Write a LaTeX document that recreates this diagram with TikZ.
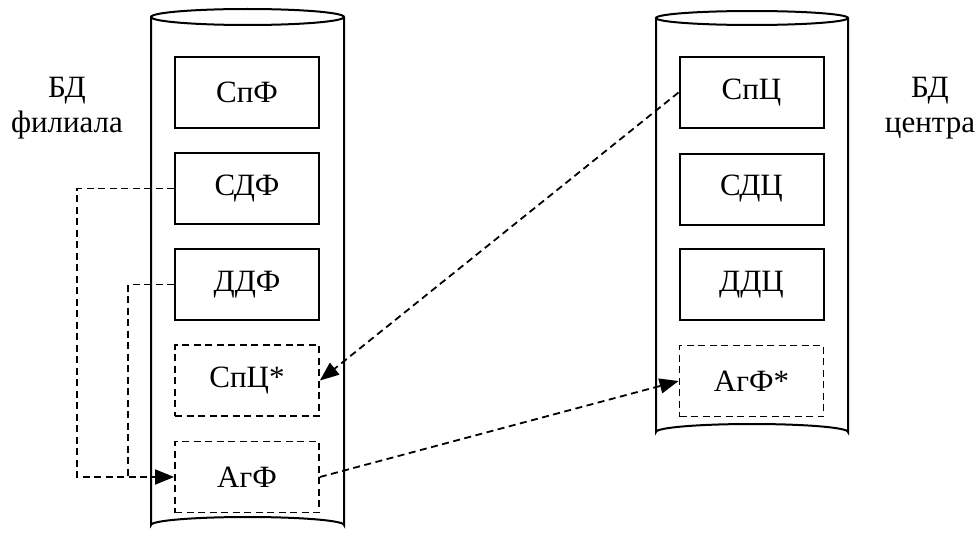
\documentclass[tikz,border=0pt]{standalone}
\usepackage{fontspec}
\setmainfont{Liberation Serif}
\usetikzlibrary{arrows.meta}
\begin{document}
\begin{tikzpicture}[x=1pt,y=-1pt,
  solidbox/.style={draw,line width=2pt,minimum width=144pt,minimum height=71pt,inner sep=0pt,font=\fontsize{31}{35}\selectfont},
  dashbox/.style={solidbox,line width=1.8pt,dash pattern=on 7pt off 4.5pt},
  link/.style={line width=1.8pt,dash pattern=on 7pt off 4.5pt,-{Triangle[length=19pt,width=15pt]}},
  linkplain/.style={line width=1.8pt,dash pattern=on 7pt off 4.5pt},
  label/.style={anchor=base,font=\fontsize{31}{35}\selectfont,inner sep=0pt},
  cyl/.style={line width=2pt}]
\useasboundingbox (0,0) rectangle (979,535);
% left cylinder
\draw[cyl] (247.5,17) ellipse [x radius=96.5, y radius=8];
\draw[cyl] (151,17) -- (151,525) arc[start angle=180,end angle=360,x radius=96.5,y radius=8] -- (344,17);
% right cylinder
\draw[cyl] (752,18) ellipse [x radius=96, y radius=7];
\draw[cyl] (656,18) -- (656,432) arc[start angle=180,end angle=360,x radius=96,y radius=8] -- (848,18);
% left boxes
\node[solidbox] (spf) at (247,92.5) {СпФ};
\node[solidbox] (sdf) at (247,188.5) {СДФ};
\node[solidbox] (ddf) at (247,284.5) {ДДФ};
\node[dashbox] (spcs) at (247,380.5) {СпЦ*};
\node[dashbox] (agf) at (247,477) {АгФ};
% right boxes
\node[solidbox] (spc) at (751.5,92.5) {СпЦ};
\node[solidbox] (sdc) at (751.5,189) {СДЦ};
\node[solidbox] (ddc) at (751.5,284.5) {ДДЦ};
\node[dashbox] (agfs) at (751.5,381) {АгФ*};
% labels
\node[label] (lbl1a) at (67,97) {БД};
\node[label] (lbl1b) at (67,132) {филиала};
\node[label] (lbl2a) at (930,97) {БД};
\node[label] (lbl2b) at (930,132) {центра};
% connectors
\coordinate (c1) at (77,188.5);
\coordinate (c2) at (77,477);
\coordinate (d1) at (128,284.5);
\coordinate (d2) at (128,477);
\draw[link] (sdf.west) -- (c1) -- (c2) -- (agf.west);
\draw[linkplain] (ddf.west) -- (d1) -- (d2);
\draw[link] (spc.west) -- (spcs.east);
\draw[link] (agf.east) -- (agfs.west);
\end{tikzpicture}
\end{document}
